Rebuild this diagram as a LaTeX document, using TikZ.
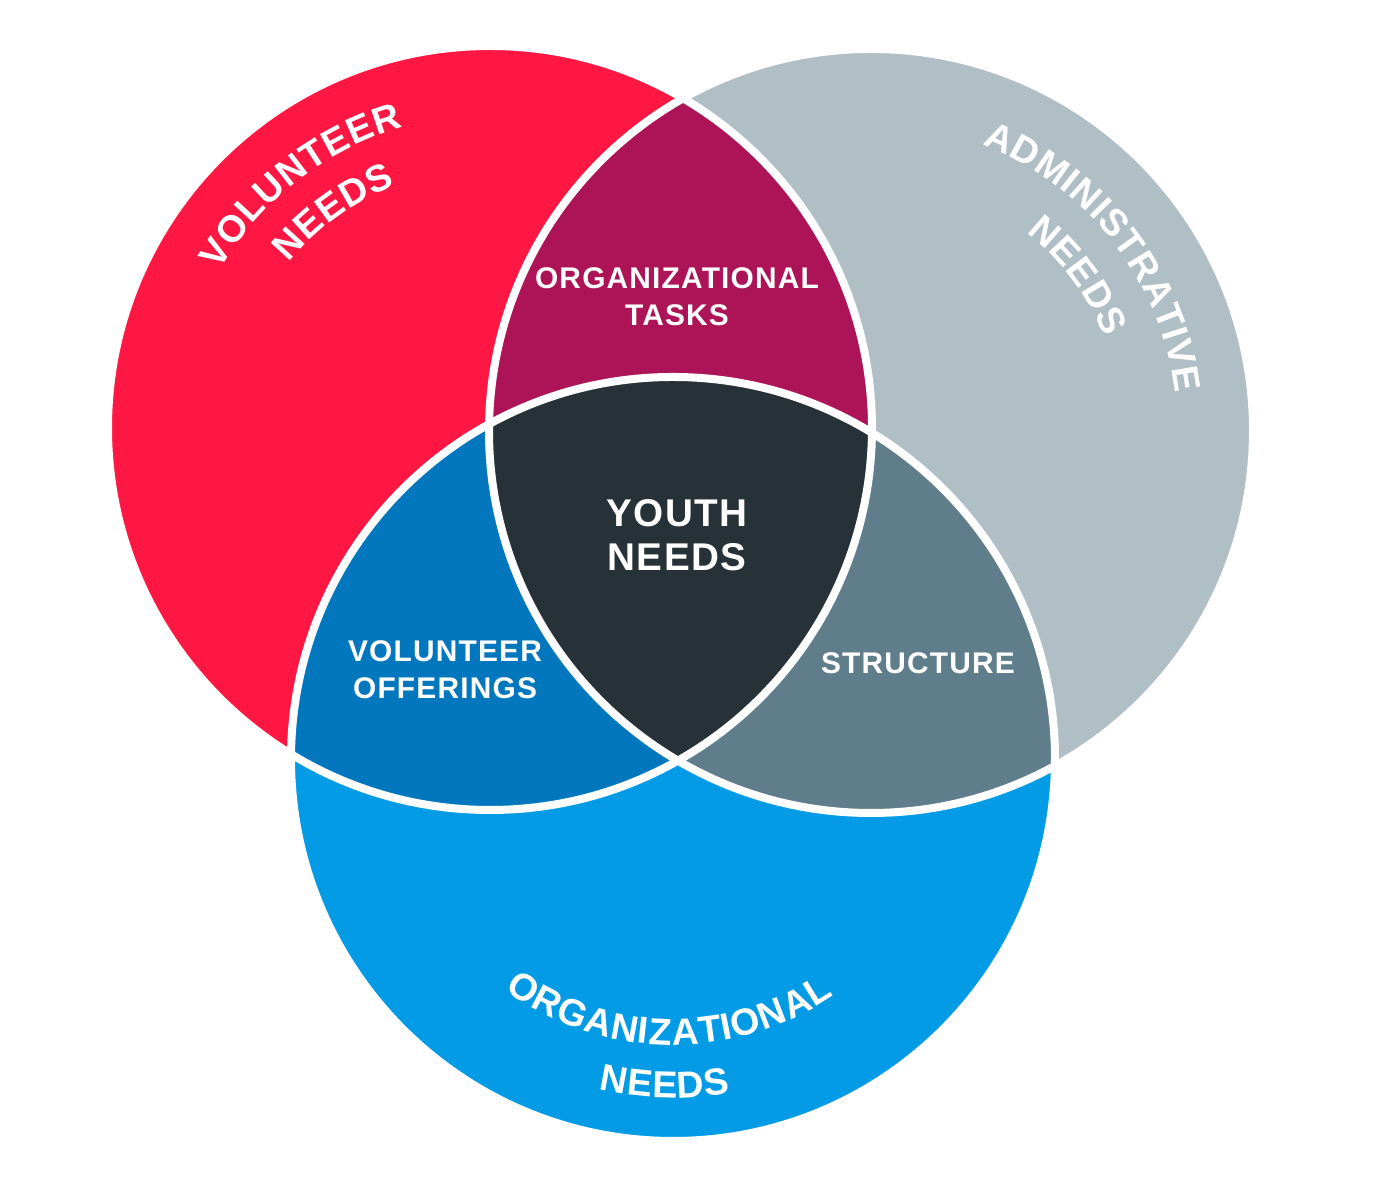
\documentclass[tikz,border=0pt]{standalone}
\usepackage{fontspec}
\setmainfont{Liberation Sans}
\usetikzlibrary{decorations.text}

\definecolor{volred}{HTML}{FF1744}
\definecolor{admgray}{HTML}{B0BEC5}
\definecolor{orgblue}{HTML}{039BE5}
\definecolor{taskred}{HTML}{AD1457}
\definecolor{offerblue}{HTML}{0277BD}
\definecolor{structgray}{HTML}{607D8B}
\definecolor{youthdark}{HTML}{263238}

\newcommand{\arcfont}{\fontsize{10.7}{12}\selectfont\bfseries\kern0.25pt}
\newcommand{\ringrad}{3.82}

\tikzset{
  ring/.style={draw=white, line width=0.08cm},
  smalllabel/.style={text=white, align=center,
    font=\fontsize{8.5}{10.5}\selectfont\bfseries\addfontfeature{LetterSpace=4}},
  biglabel/.style={text=white, align=center,
    font=\fontsize{11}{12.5}\selectfont\bfseries\addfontfeature{LetterSpace=4}},
  arclabel/.style={decorate, decoration={text along path, text color=white, text align=center}}
}

\begin{document}
\begin{tikzpicture}
\useasboundingbox (0,0) rectangle (13.76,11.84);
\coordinate (vol) at (4.90,7.56);
\coordinate (adm) at (8.71,7.53);
\coordinate (org) at (6.73,4.25);

% the three needs
\fill[volred] (vol) circle (\ringrad);
\fill[admgray] (adm) circle (\ringrad);
\fill[orgblue] (org) circle (\ringrad);

% overlaps
\begin{scope}
  \clip (vol) circle (\ringrad);
  \fill[taskred] (adm) circle (\ringrad);
  \fill[offerblue] (org) circle (\ringrad);
\end{scope}
\begin{scope}
  \clip (adm) circle (\ringrad);
  \fill[structgray] (org) circle (\ringrad);
\end{scope}
\begin{scope}
  \clip (vol) circle (\ringrad);
  \clip (adm) circle (\ringrad);
  \fill[youthdark] (org) circle (\ringrad);
\end{scope}

% white borders
\foreach \c in {vol,adm,org}
  \draw[ring] (\c) circle (\ringrad);

% inner labels
\node[smalllabel] (tasks) at (6.77,8.87) {ORGANIZATIONAL\\TASKS};
\node[biglabel] (youth) at (6.77,6.49) {YOUTH\\NEEDS};
\node[smalllabel] (offer) at (4.45,5.14) {VOLUNTEER\\OFFERINGS};
\node[smalllabel] (struct) at (9.18,5.21) {STRUCTURE};

% curved labels
\path[arclabel, decoration={text={|\arcfont|VOLUNTEER}}]
  (vol) ++(168:3.13) arc[start angle=168, end angle=88, radius=3.13];
\path[arclabel, decoration={text={|\arcfont|NEEDS}}]
  (vol) ++(166:2.60) arc[start angle=166, end angle=86, radius=2.60];
\path[arclabel, decoration={text={|\arcfont|ADMINISTRATIVE}}]
  (adm) ++(78:3.07) arc[start angle=78, end angle=-2, radius=3.07];
\path[arclabel, decoration={text={|\arcfont|NEEDS}}]
  (adm) ++(77:2.52) arc[start angle=77, end angle=-3, radius=2.52];
\path[arclabel, decoration={text={|\arcfont|ORGANIZATIONAL}}]
  (org) ++(-141:2.86) arc[start angle=-141, end angle=-41, radius=2.86];
\path[arclabel, decoration={text={|\arcfont|NEEDS}}]
  (org) ++(-121.5:3.39) arc[start angle=-121.5, end angle=-61.5, radius=3.39];
\end{tikzpicture}
\end{document}
